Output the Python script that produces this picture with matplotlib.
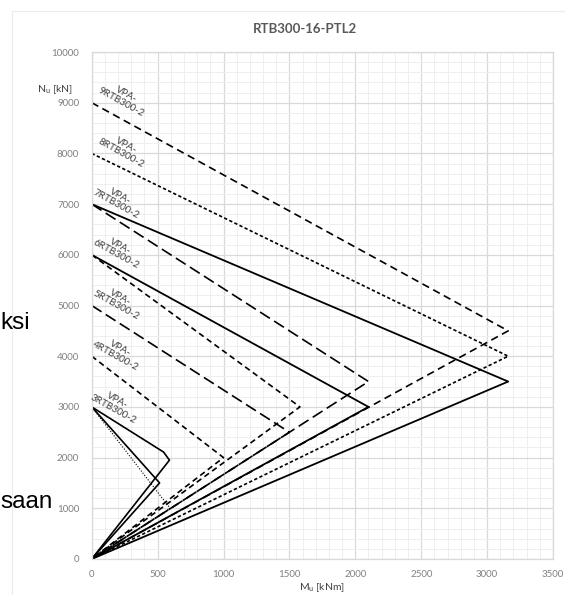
import numpy as np
import matplotlib.pyplot as plt
from matplotlib.patches import Rectangle

# interaction curves, M_u [kNm] / N_u [kN]
m_9 = [0, 3160, 0]
n_9 = [9000, 4500, 0]
m_8 = [0, 3160, 0]
n_8 = [8000, 4000, 0]
m_7 = [0, 3160, 0]
n_7 = [7000, 3500, 0]
m_7b = [0, 2100, 0]
n_7b = [7000, 3500, 0]
m_6 = [0, 2100, 0]
n_6 = [6000, 3000, 0]
m_6b = [0, 1580, 0]
n_6b = [6000, 3000, 0]
m_5 = [0, 1500, 0]
n_5 = [5000, 2500, 0]
m_4 = [0, 1000, 0]
n_4 = [4000, 2000, 0]
m_3 = [0, 545, 590, 0]
n_3 = [3000, 2110, 1950, 0]
m_3b = [0, 515, 0]
n_3b = [3000, 1500, 0]
m_3c = [0, 595, 0]
n_3c = [3000, 1000, 0]

label_names = ['VPA-\n9RTB300-2', 'VPA-\n8RTB300-2', 'VPA-\n7RTB300-2', 'VPA-\n6RTB300-2',
               'VPA-\n5RTB300-2', 'VPA-\n4RTB300-2', 'VPA-\n3RTB300-2']
label_n = [9000, 8000, 7000, 6000, 5000, 4000, 3000]

title = 'RTB300-16-PTL2'

DASH = (4.5, 2.8)
SQDOT = (2.0, 1.4)
LONGDASH = (7.0, 3.0)
SHORTDASH = (3.4, 2.3)

fig = plt.figure(figsize=(5.65, 5.95), dpi=100)
fig.patch.set_facecolor('white')

# pieces of slide text behind the chart
fig.text(0.5/565, 1-329/595, 'ksi', family='Liberation Sans', fontsize=17.5,
         ha='left', va='baseline', color='black')
fig.text(0.5/565, 1-508/595, 'saan', family='Liberation Sans', fontsize=17.5,
         ha='left', va='baseline', color='black')

# chart area border
fig.patches.append(Rectangle((12/565, -0.1), 1.0, 1-11/595+0.1, transform=fig.transFigure,
                             fill=False, edgecolor='#ececec', lw=0.8))

ax = fig.add_axes([91.7/565, 1-559/595, (553-91.7)/565, (559-52)/595])

ax.plot(m_9, n_9, color='black', lw=1.2, dashes=DASH)
ax.plot(m_8, n_8, color='black', lw=1.2, dashes=SQDOT)
ax.plot(m_7, n_7, color='black', lw=1.3)
ax.plot(m_7b, n_7b, color='black', lw=1.2, dashes=LONGDASH)
ax.plot(m_6, n_6, color='black', lw=1.3)
ax.plot(m_6b, n_6b, color='black', lw=1.2, dashes=SHORTDASH)
ax.plot(m_5, n_5, color='black', lw=1.2, dashes=LONGDASH)
ax.plot(m_4, n_4, color='black', lw=1.2, dashes=SHORTDASH)
ax.plot(m_3, n_3, color='black', lw=1.2)
ax.plot(m_3b, n_3b, color='black', lw=1.2)
ax.plot(m_3c, n_3c, color='black', lw=0.8, dashes=(1, 1.5))

for name, n in zip(label_names, label_n):
    off = (23, 3) if n >= 8000 else ((17, 1.5) if n == 3000 else (19, 3))
    ax.annotate(name, xy=(0, n), xytext=off, textcoords='offset points',
                ha='center', va='center', rotation=-29, rotation_mode='anchor',
                multialignment='center', fontsize=7.2, family='Lato', color='#404040',
                linespacing=1.0)

ax.set_xlim(0, 3500)
ax.set_ylim(0, 10000)
ax.set_xticks(np.arange(0, 3501, 500))
ax.set_yticks(np.arange(0, 10001, 1000))
ax.set_xticks(np.arange(0, 3501, 100), minor=True)
ax.set_yticks(np.arange(0, 10001, 200), minor=True)
ax.grid(which='major', color='#d9d9d9', lw=0.9)
ax.grid(which='minor', color='#efefef', lw=0.7)
ax.set_axisbelow(True)
ax.tick_params(which='both', length=0)
ax.tick_params(axis='both', labelsize=7, labelcolor='#808080')
ax.tick_params(axis='y', pad=9)
ax.tick_params(axis='x', pad=8)
for lab in ax.get_xticklabels() + ax.get_yticklabels():
    lab.set_family('Lato')
for s in ax.spines.values():
    s.set_color('#d9d9d9')
    s.set_linewidth(0.9)

fig.text(305/565, 1-29/595, title, ha='center', va='center', fontsize=9.5,
         fontweight='bold', family='Lato', color='#595959')
fig.text(55/565, 1-90/595, r'N$_\mathregular{u}$ [kN]', ha='center', va='center',
         fontsize=7.5, family='Lato', color='#404040')
fig.text(322/565, 1-594/595, r'M$_\mathregular{u}$ [kNm]', ha='center', va='bottom',
         fontsize=7.5, family='Lato', color='#404040')

fig.savefig('out.png', dpi=100)
